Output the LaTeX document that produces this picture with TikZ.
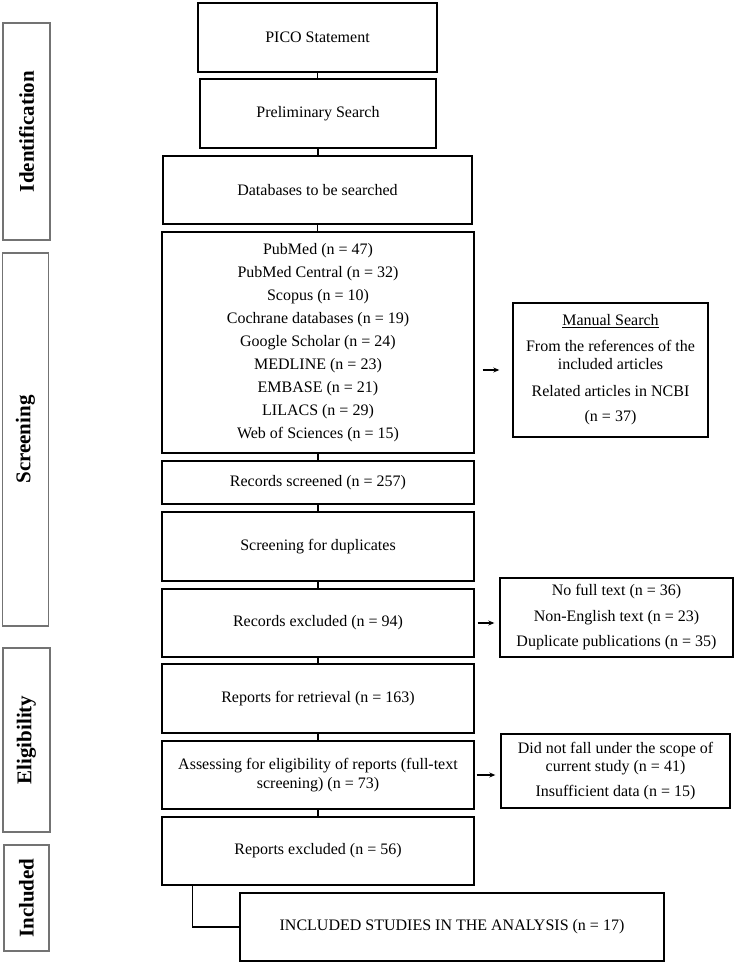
\documentclass[tikz,border=0pt]{standalone}
\usepackage{fontspec}
\setmainfont{Liberation Serif}
\usetikzlibrary{arrows.meta}
\tikzset{
  mbox/.style={draw=black, line width=1.4pt, fill=white, align=center, inner sep=2pt,
    font=\fontsize{16}{18.5}\selectfont},
  lbox/.style={draw=black!55, line width=1.1pt, rotate=90, inner sep=0pt,
    font=\fontsize{21}{24}\selectfont\bfseries},
  link/.style={draw=black, line width=1.1pt},
  arr/.style={draw=black, line width=1.1pt, -{Stealth[length=6pt,width=5pt]}}
}
\begin{document}
\begin{tikzpicture}[x=1pt,y=-1pt]
\useasboundingbox (0,0) rectangle (738,968);
% phase labels
\node[lbox, minimum width=217pt, minimum height=47pt] (lid) at (26.5,131.5) {Identification};
\node[lbox, minimum width=373pt, minimum height=46pt] (lsc) at (25.5,439.5) {Screening};
\node[lbox, minimum width=184pt, minimum height=47pt] (lel) at (26.5,740) {Eligibility};
\node[lbox, minimum width=106pt, minimum height=45pt] (lin) at (26.5,898) {Included};
% main column
\node[mbox, minimum width=239pt, minimum height=69pt] (pico) at (317.5,37.5) {PICO Statement};
\node[mbox, minimum width=236pt, minimum height=69pt] (prelim) at (318,113.5) {Preliminary Search};
\node[mbox, minimum width=309pt, minimum height=68pt] (dbs) at (317.5,190) {Databases to be searched};
\node[mbox, minimum width=312pt, minimum height=221pt, font=\fontsize{16}{23}\selectfont] (list) at (318,342.5)
  {PubMed (n = 47)\\PubMed Central (n = 32)\\Scopus (n = 10)\\Cochrane databases (n = 19)\\Google Scholar (n = 24)\\MEDLINE (n = 23)\\EMBASE (n = 21)\\LILACS (n = 29)\\Web of Sciences (n = 15)};
\node[mbox, minimum width=312pt, minimum height=43pt] (scr) at (318,482.5) {Records screened (n = 257)};
\node[mbox, minimum width=312pt, minimum height=69pt] (dup) at (318,546.5) {Screening for duplicates};
\node[mbox, minimum width=312pt, minimum height=68pt] (recex) at (318,623) {Records excluded (n = 94)};
\node[mbox, minimum width=312pt, minimum height=69pt] (retr) at (318,698.5) {Reports for retrieval (n = 163)};
\node[mbox, minimum width=312pt, minimum height=68pt] (assess) at (318,775) {Assessing for eligibility of reports (full-text\\screening) (n = 73)};
\node[mbox, minimum width=312pt, minimum height=68pt] (repex) at (318,851) {Reports excluded (n = 56)};
\node[mbox, minimum width=424pt, minimum height=68pt] (incl) at (452,927) {INCLUDED STUDIES IN THE ANALYSIS (n = 17)};
% side boxes
\node[mbox, minimum width=195pt, minimum height=134pt] (manual) at (610.5,370)
  {\underline{Manual Search}\\[7pt]From the references of the\\included articles\\[8.5pt]Related articles in NCBI\\[6.5pt](n = 37)};
\node[mbox, minimum width=233pt, minimum height=79pt] (excl) at (616.5,617.5)
  {No full text (n = 36)\\[7pt]Non-English text (n = 23)\\[7pt]Duplicate publications (n = 35)};
\node[mbox, minimum width=229pt, minimum height=74pt] (noelig) at (615.5,771)
  {Did not fall under the scope of\\current study (n = 41)\\[6.5pt]Insufficient data (n = 15)};
% vertical connectors
\draw[link] (pico.south) -- (pico.south |- prelim.north);
\draw[link] (prelim.south) -- (prelim.south |- dbs.north);
\draw[link] (dbs.south) -- (dbs.south |- list.north);
\draw[link] (list.south) -- (scr.north);
\draw[link] (scr.south) -- (dup.north);
\draw[link] (dup.south) -- (recex.north);
\draw[link] (recex.south) -- (retr.north);
\draw[link] (retr.south) -- (assess.north);
\draw[link] (assess.south) -- (repex.north);
\draw[link] ([xshift=31pt]repex.south west) |- (incl.west);
% side arrows
\draw[arr, shorten <=8pt, shorten >=13pt] (list.east |- manual.west) -- (manual.west);
\draw[arr, shorten <=3pt, shorten >=5pt] (recex.east) -- (recex.east -| excl.west);
\draw[arr, shorten <=2pt, shorten >=5pt] (assess.east) -- (assess.east -| noelig.west);
\end{tikzpicture}
\end{document}
